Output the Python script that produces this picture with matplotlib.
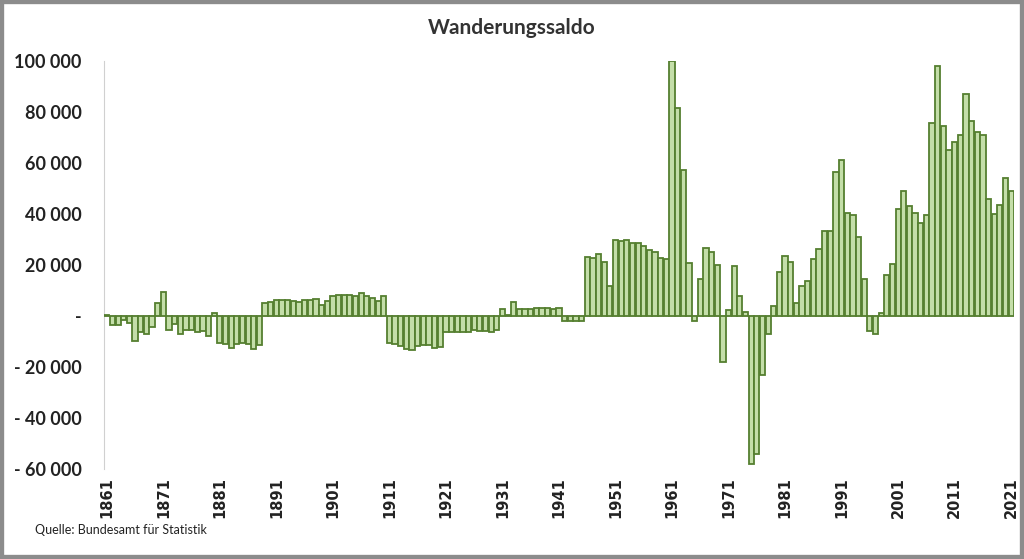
import matplotlib.pyplot as plt
from matplotlib.patches import Rectangle
from matplotlib.ticker import FuncFormatter

plt.rcParams['font.family'] = ['Lato', 'DejaVu Sans']

# Jahre 1861 - 2021
years = list(range(1861, 2022))

# Wanderungssaldo (Personen)
saldo = [
    500, -3700, -3400, -1400, -2700, -9800, -6300, -7200, -4400, 5200,      # 1861-1870
    9400, -5400, -3000, -7100, -5600, -5600, -6300, -6000, -7700, 1200,     # 1871-1880
    -10500, -10800, -12400, -11000, -10600, -11100, -12800, -11200, 5100, 5600,  # 1881-1890
    6100, 6300, 6100, 5900, 5600, 6100, 6100, 6700, 4400, 5800,             # 1891-1900
    8000, 8100, 8100, 8200, 7700, 8900, 8000, 7100, 5900, 7800,             # 1901-1910
    -10500, -10800, -11600, -12800, -13200, -11800, -11500, -11500, -12700, -12300,  # 1911-1920
    -6100, -6100, -6100, -6100, -6400, -5600, -5900, -6000, -6400, -5600,   # 1921-1930
    2700, 300, 5600, 2600, 2600, 2600, 3100, 3100, 3100, 2600,              # 1931-1940
    3100, -2000, -2000, -2000, -2000, 23100, 22700, 24200, 21000, 11900,    # 1941-1950
    29800, 29300, 29700, 28800, 28600, 27300, 25800, 25200, 22700, 22500,   # 1951-1960
    100000, 81700, 57300, 20700, -1800, 14500, 26800, 25000, 20000, -17900, # 1961-1970
    2200, 19600, 7800, 1400, -58000, -54200, -23000, -7100, 3900, 17100,    # 1971-1980
    23500, 21000, 5200, 11900, 13700, 22400, 26400, 33500, 33500, 56600,    # 1981-1990
    61300, 40300, 39500, 30800, 14500, -5900, -6900, 1200, 15900, 20300,    # 1991-2000
    41800, 49000, 43100, 40500, 36300, 39500, 75600, 98200, 74500, 65100,   # 2001-2010
    68200, 71100, 87200, 76300, 72000, 71000, 46000, 40100, 43500, 54000,   # 2011-2020
    48900,                                                                  # 2021
]

tick_years = list(range(1861, 2022, 10))

fig = plt.figure(figsize=(10.24, 5.59), dpi=100)
ax = fig.add_axes([104 / 1024, 1 - 469 / 559, 910 / 1024, 408 / 559])

ax.bar(years, saldo, width=0.92, color='#c4dea9', edgecolor='#557f30', linewidth=1.3, zorder=3)
ax.axhline(0, color='#c8c8c8', linewidth=1.2, zorder=2)

ax.set_xlim(1860.5, 2021.5)
ax.set_ylim(-60000, 100000)
ax.set_yticks(range(-60000, 100001, 20000))


def fmt(v, pos):
    v = int(round(v))
    if v == 0:
        return '-'
    s = '{:,}'.format(abs(v)).replace(',', ' ')
    return ('- ' + s) if v < 0 else s


ax.yaxis.set_major_formatter(FuncFormatter(fmt))
ax.set_xticks(tick_years)
ax.set_xticklabels([str(y) for y in tick_years], rotation=90, fontsize=10.5,
                   fontweight='bold', family=['DejaVu Sans'], color='#222222')
for lab in ax.get_yticklabels():
    lab.set_fontsize(13)
    lab.set_fontweight('bold')
    lab.set_color('#222222')

ax.tick_params(axis='y', length=0, pad=16)
ax.tick_params(axis='x', length=0, pad=6)
for s in ['top', 'right', 'bottom']:
    ax.spines[s].set_visible(False)
ax.spines['left'].set_color('#d0d0d0')

fig.text(0.5, 0.95, 'Wanderungssaldo', ha='center', va='center',
         fontsize=15, fontweight='bold', color='#333333')
fig.text(35 / 1024, 1 - 530 / 559, 'Quelle: Bundesamt für Statistik', ha='left',
         va='center', fontsize=9, color='#222222')

# grauer Rahmen
fig.patches.append(Rectangle((0, 0), 1, 1, transform=fig.transFigure, fill=False,
                             edgecolor='#8c8c8c', linewidth=6))

fig.savefig('out.png', dpi=100)
